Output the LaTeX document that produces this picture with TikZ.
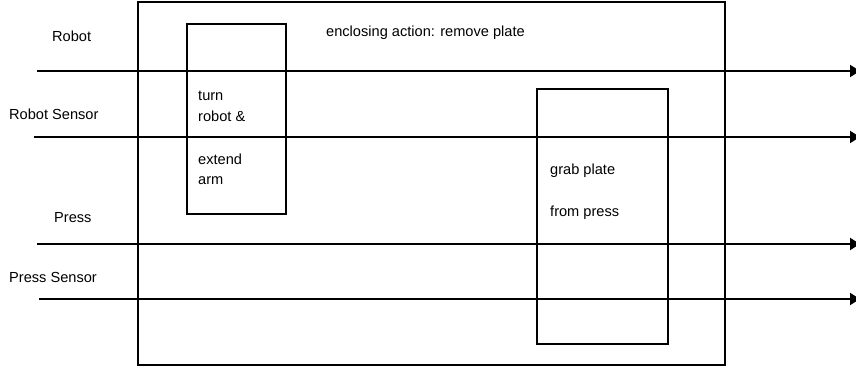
\documentclass[tikz,border=0pt]{standalone}
\usepackage{fontspec}
\setmainfont{Liberation Sans}
\usetikzlibrary{arrows.meta}
\begin{document}
\begin{tikzpicture}[x=1pt,y=1pt,
  lbl/.style={anchor=base west,inner sep=0pt,font=\fontsize{14.6}{17}\selectfont},
  frame/.style={draw,line width=1.9pt,inner sep=0pt,anchor=north west},
  flow/.style={line width=1.9pt,-{Triangle[length=10pt,width=12pt]}}]
\useasboundingbox (0,0) rectangle (856,367);
% enclosing action
\node[frame,minimum width=587pt,minimum height=363pt] (outer) at (137,366) {};
% inner actions
\node[frame,minimum width=99pt,minimum height=190pt] (turn) at (186,344) {};
\node[frame,minimum width=131pt,minimum height=255pt] (grab) at (536,279) {};
% flow lines
\coordinate (r0) at (37,296);  \coordinate (r1) at (860,296);
\coordinate (rs0) at (34,230); \coordinate (rs1) at (860,230);
\coordinate (p0) at (37,123);  \coordinate (p1) at (860,123);
\coordinate (ps0) at (39,68);  \coordinate (ps1) at (860,68);
\draw[flow] (r0) -- (r1);
\draw[flow] (rs0) -- (rs1);
\draw[flow] (p0) -- (p1);
\draw[flow] (ps0) -- (ps1);
% labels
\node[lbl] (lr) at (52,325) {Robot};
\node[lbl] (lrs) at (9,247) {Robot Sensor};
\node[lbl] (lp) at (54,144) {Press};
\node[lbl] (lps) at (9,85) {Press Sensor};
\node[lbl] (title) at (326,330) {enclosing action: remove plate};
\node[lbl] (t1) at (198,266.3) {turn};
\node[lbl] (t2) at (198,245.3) {robot \&};
\node[lbl] (t3) at (198,202) {extend};
\node[lbl] (t4) at (198,182) {arm};
\node[lbl] (g1) at (550,192) {grab plate};
\node[lbl] (g2) at (550,150) {from press};
\end{tikzpicture}
\end{document}
